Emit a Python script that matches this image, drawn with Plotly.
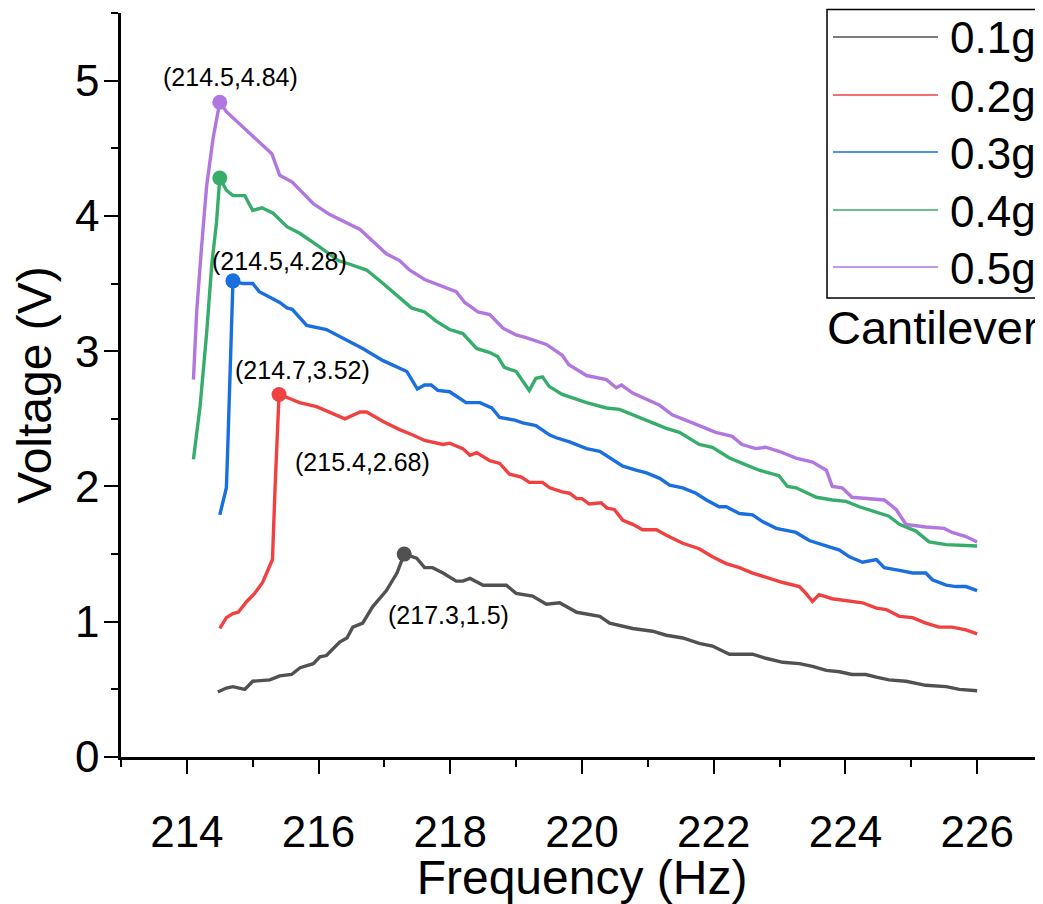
import plotly.graph_objects as go

# Voltage vs frequency for cantilever tip masses
freq_01 = [214.47, 214.6, 214.7, 214.88, 215.0, 215.26, 215.41, 215.59, 215.72, 215.92,
           216.02, 216.12, 216.32, 216.43, 216.52, 216.67, 216.82, 217.03, 217.19, 217.3,
           217.49, 217.61, 217.73, 217.89, 218.09, 218.19, 218.3, 218.5, 218.85, 219.0,
           219.25, 219.46, 219.66, 219.92, 220.27, 220.42, 220.77, 221.07, 221.28, 221.53,
           221.78, 221.98, 222.24, 222.59, 222.79, 223.05, 223.3, 223.5, 223.71, 223.91,
           224.1, 224.31, 224.47, 224.66, 224.92, 225.22, 225.53, 225.73, 226.0]
volt_01 = [0.48, 0.51, 0.52, 0.50, 0.56, 0.57, 0.60, 0.61, 0.66, 0.69,
           0.74, 0.75, 0.85, 0.88, 0.96, 0.99, 1.11, 1.23, 1.36, 1.50,
           1.47, 1.40, 1.40, 1.36, 1.30, 1.30, 1.32, 1.27, 1.27, 1.21,
           1.19, 1.13, 1.14, 1.07, 1.04, 0.99, 0.95, 0.93, 0.90, 0.88,
           0.84, 0.82, 0.76, 0.76, 0.73, 0.70, 0.69, 0.67, 0.64, 0.63,
           0.61, 0.61, 0.59, 0.57, 0.56, 0.53, 0.52, 0.50, 0.49]

freq_02 = [214.5, 214.6, 214.7, 214.78, 214.91, 215.03, 215.15, 215.3, 215.34, 215.38,
           215.4, 215.56, 215.71, 215.97, 216.22, 216.4, 216.63, 216.73, 216.98, 217.23,
           217.43, 217.61, 217.89, 217.99, 218.19, 218.3, 218.4, 218.6, 218.75, 218.9,
           219.08, 219.2, 219.4, 219.51, 219.7, 219.81, 219.92, 220.0, 220.11, 220.29,
           220.38, 220.49, 220.62, 220.77, 220.92, 221.13, 221.28, 221.37, 221.53, 221.78,
           221.98, 222.19, 222.39, 222.59, 222.79, 223.05, 223.3, 223.4, 223.5, 223.6,
           223.8, 224.06, 224.26, 224.47, 224.62, 224.82, 225.02, 225.22, 225.42, 225.62,
           225.83, 226.0]
volt_02 = [0.95, 1.03, 1.06, 1.07, 1.15, 1.21, 1.29, 1.46, 2.00, 2.50,
           2.68, 2.65, 2.62, 2.59, 2.54, 2.50, 2.55, 2.55, 2.48, 2.42,
           2.38, 2.34, 2.31, 2.32, 2.28, 2.23, 2.25, 2.19, 2.17, 2.09,
           2.07, 2.03, 2.03, 1.99, 1.96, 1.95, 1.91, 1.91, 1.87, 1.88,
           1.84, 1.83, 1.75, 1.72, 1.68, 1.68, 1.64, 1.62, 1.58, 1.54,
           1.48, 1.43, 1.40, 1.36, 1.33, 1.29, 1.26, 1.21, 1.15, 1.20,
           1.17, 1.15, 1.14, 1.10, 1.09, 1.04, 1.03, 0.99, 0.96, 0.96,
           0.94, 0.91]

freq_03 = [214.5, 214.6, 214.62, 214.65, 214.7, 214.85, 215.0, 215.1, 215.41, 215.52,
           215.6, 215.82, 216.12, 216.43, 216.67, 216.98, 217.28, 217.34, 217.5, 217.61,
           217.71, 217.81, 217.99, 218.24, 218.45, 218.63, 218.75, 218.98, 219.1, 219.3,
           219.51, 219.61, 219.81, 220.07, 220.27, 220.42, 220.52, 220.62, 220.82, 220.98,
           221.18, 221.33, 221.53, 221.73, 221.89, 222.08, 222.19, 222.39, 222.59, 222.74,
           222.95, 223.25, 223.45, 223.76, 223.91, 224.06, 224.26, 224.47, 224.59, 224.82,
           225.02, 225.22, 225.32, 225.53, 225.68, 225.83, 226.0]
volt_03 = [1.79, 1.99, 2.27, 2.76, 3.52, 3.50, 3.50, 3.44, 3.36, 3.32,
           3.31, 3.19, 3.16, 3.08, 3.02, 2.93, 2.86, 2.85, 2.72, 2.75,
           2.75, 2.71, 2.70, 2.62, 2.62, 2.58, 2.51, 2.49, 2.47, 2.45,
           2.38, 2.36, 2.33, 2.28, 2.26, 2.21, 2.18, 2.15, 2.12, 2.10,
           2.06, 2.01, 1.99, 1.95, 1.90, 1.85, 1.85, 1.80, 1.79, 1.74,
           1.69, 1.66, 1.60, 1.55, 1.53, 1.48, 1.44, 1.46, 1.40, 1.38,
           1.36, 1.36, 1.31, 1.27, 1.26, 1.26, 1.23]

freq_04 = [214.1, 214.2, 214.3, 214.38, 214.45, 214.5, 214.6, 214.7, 214.88, 215.0,
           215.14, 215.31, 215.52, 215.72, 216.02, 216.3, 216.43, 216.73, 216.98, 217.23,
           217.41, 217.61, 217.79, 217.99, 218.19, 218.4, 218.6, 218.72, 218.82, 219.0,
           219.2, 219.3, 219.4, 219.5, 219.7, 220.07, 220.37, 220.57, 220.87, 221.28,
           221.48, 221.78, 221.98, 222.24, 222.49, 222.69, 222.99, 223.12, 223.25, 223.56,
           223.8, 224.01, 224.21, 224.47, 224.66, 224.82, 225.07, 225.27, 225.53, 226.0]
volt_04 = [2.20, 2.59, 3.13, 3.65, 3.95, 4.28, 4.19, 4.15, 4.15, 4.04,
           4.06, 4.02, 3.92, 3.87, 3.77, 3.67, 3.65, 3.60, 3.50, 3.40,
           3.32, 3.29, 3.22, 3.16, 3.13, 3.02, 2.99, 2.96, 2.88, 2.85,
           2.71, 2.80, 2.81, 2.74, 2.68, 2.62, 2.58, 2.57, 2.51, 2.43,
           2.40, 2.31, 2.29, 2.21, 2.16, 2.12, 2.08, 2.00, 1.99, 1.92,
           1.90, 1.89, 1.85, 1.81, 1.78, 1.72, 1.67, 1.59, 1.57, 1.56]

freq_05 = [214.1, 214.15, 214.22, 214.3, 214.4, 214.5, 214.6, 214.96, 215.29, 215.41,
           215.6, 215.92, 216.17, 216.63, 217.03, 217.23, 217.38, 217.61, 218.09, 218.22,
           218.42, 218.6, 218.8, 219.0, 219.15, 219.46, 219.7, 219.8, 220.07, 220.37,
           220.52, 220.6, 220.77, 221.18, 221.37, 221.78, 222.03, 222.28, 222.43, 222.64,
           222.79, 222.99, 223.25, 223.5, 223.71, 223.8, 223.95, 224.1, 224.31, 224.59,
           224.77, 224.92, 225.22, 225.5, 225.62, 225.83, 226.0]
volt_05 = [2.79, 3.30, 3.75, 4.22, 4.58, 4.84, 4.77, 4.61, 4.46, 4.30,
           4.25, 4.09, 4.01, 3.90, 3.72, 3.67, 3.60, 3.53, 3.44, 3.36,
           3.29, 3.27, 3.17, 3.12, 3.10, 3.05, 2.97, 2.90, 2.82, 2.79,
           2.73, 2.75, 2.69, 2.60, 2.53, 2.45, 2.40, 2.37, 2.31, 2.28,
           2.29, 2.26, 2.21, 2.18, 2.12, 2.00, 1.99, 1.92, 1.91, 1.90,
           1.83, 1.72, 1.70, 1.69, 1.66, 1.63, 1.59]

series_names = ["0.1g", "0.2g", "0.3g", "0.4g", "0.5g"]
series_freq = [freq_01, freq_02, freq_03, freq_04, freq_05]
series_volt = [volt_01, volt_02, volt_03, volt_04, volt_05]

# resonance peaks
peak_freq = [217.3, 215.4, 214.7, 214.5, 214.5]
peak_volt = [1.5, 2.68, 3.52, 4.28, 4.84]

colors = ["#515151", "#F14040", "#1A6FDF", "#37AD6B", "#B177DE"]
FONT = "Liberation Sans, Arial, sans-serif"

# the page body has an 8px margin, so the figure is shrunk by that much
OFF = 8
W, H = 1043 - OFF, 904 - OFF
L, R, T, B = 121 - OFF, 0, 13 - OFF, 147
PLOT_W, PLOT_H = W - L - R, H - T - B


def px(x):
    # page pixel -> paper x
    return (x - OFF - L) / PLOT_W


def py(y):
    # page pixel -> paper y
    return (OFF + T + PLOT_H - y) / PLOT_H


fig = go.Figure()

for name, fx, vy, col in zip(series_names, series_freq, series_volt, colors):
    fig.add_trace(go.Scatter(x=fx, y=vy, mode="lines", line=dict(color=col, width=3.4),
                             showlegend=False, name=name))

for fx, vy, col in zip(peak_freq, peak_volt, colors):
    fig.add_trace(go.Scatter(x=[fx], y=[vy], mode="markers",
                             marker=dict(color=col, size=15), showlegend=False))

# peak labels (label anchor positions in data units)
label_pos = [(217.97, 1.05), (216.67, 2.18), (215.76, 2.86), (215.41, 3.67), (214.67, 5.03)]
for (lx, ly), fx, vy in zip(label_pos, peak_freq, peak_volt):
    fig.add_annotation(x=lx, y=ly, text=f"({fx},{vy})", showarrow=False,
                       font=dict(size=25, color="black", family=FONT))

# legend box drawn by hand
fig.add_shape(type="rect", xref="paper", yref="paper",
              x0=px(827), x1=px(1050), y0=py(298), y1=py(9.5),
              line=dict(color="black", width=1.5), fillcolor="white", layer="below")
legend_rows = [37, 95, 152, 210, 267]
for name, col, row in zip(series_names, colors, legend_rows):
    fig.add_shape(type="line", xref="paper", yref="paper",
                  x0=px(833), x1=px(938), y0=py(row), y1=py(row),
                  line=dict(color=col, width=1.5))
    fig.add_annotation(x=px(948), y=py(row + 1), xref="paper", yref="paper",
                       xanchor="left", yanchor="middle", text=name, showarrow=False,
                       font=dict(size=44, color="black", family=FONT))

fig.add_annotation(x=px(825), y=py(328), xref="paper", yref="paper", xanchor="left",
                   yanchor="middle", text="Cantilever", showarrow=False,
                   font=dict(size=47, color="black", family=FONT))

axis_common = dict(showline=True, linecolor="black", linewidth=2.5, showgrid=False,
                   zeroline=False, ticks="outside", ticklen=14, tickwidth=2,
                   tickcolor="black", tickfont=dict(size=44, color="black", family=FONT),
                   mirror=False, automargin=False)

fig.update_layout(
    width=W, height=H,
    margin=dict(l=L, r=R, t=T, b=B, autoexpand=False),
    paper_bgcolor="white", plot_bgcolor="white",
    font=dict(family=FONT, color="black"),
    showlegend=False,
    xaxis=dict(range=[213, 227], tickmode="array", tickvals=[214, 216, 218, 220, 222, 224, 226],
               minor=dict(ticks="outside", ticklen=7, tickwidth=2, tickcolor="black",
                          tickmode="array", tickvals=[213, 215, 217, 219, 221, 223, 225, 227]),
               ticklabelstandoff=20,
               title=dict(text="Frequency (Hz)", font=dict(size=48, family=FONT), standoff=4),
               **axis_common),
    yaxis=dict(range=[0, 5.5], tickmode="array", tickvals=[0, 1, 2, 3, 4, 5],
               minor=dict(ticks="outside", ticklen=7, tickwidth=2, tickcolor="black",
                          tickmode="array", tickvals=[0.5, 1.5, 2.5, 3.5, 4.5, 5.5]),
               ticklabelstandoff=-4,
               title=dict(text="Voltage (V)", font=dict(size=48, family=FONT), standoff=11),
               **axis_common),
)

fig.write_html("out.html")
